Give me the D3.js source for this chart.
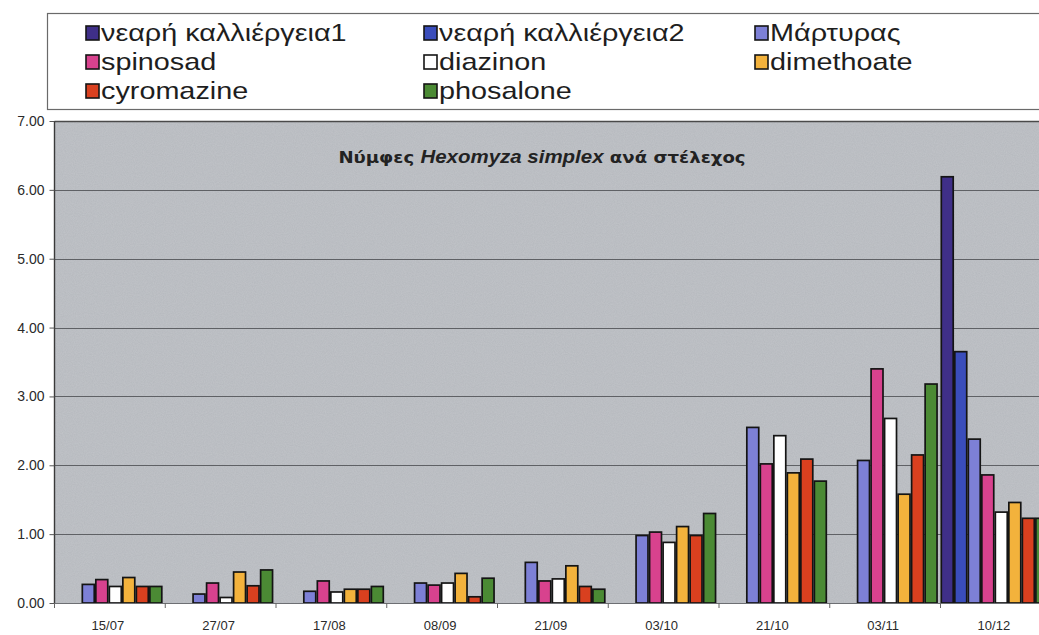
<!DOCTYPE html>
<html>
<head>
<meta charset="utf-8">
<script src="https://cdn.jsdelivr.net/npm/d3@7"></script>
<style>
  html, body { margin: 0; padding: 0; background: #ffffff; }
  svg { display: block; }
</style>
</head>
<body>
<svg id="chart" width="1039" height="635"></svg>
<script>
// Sampling dates (x categories)
const categories = ["15/07", "27/07", "17/08", "08/09", "21/09", "03/10", "21/10", "03/11", "10/12"];

// Series names, in drawing order
const seriesNames = ["νεαρή καλλιέργεια1", "νεαρή καλλιέργεια2", "Μάρτυρας", "spinosad", "diazinon", "dimethoate", "cyromazine", "phosalone"];

// Pupae per stem, one array per series (null = not sampled)
const nearaKalliergeia1 = [null, null, null, null, null, null, null, null, 6.19];
const nearaKalliergeia2 = [null, null, null, null, null, null, null, null, 3.65];
const martyras   = [0.27, 0.13, 0.17, 0.29, 0.59, 0.98, 2.55, 2.07, 2.38];
const spinosad   = [0.34, 0.29, 0.32, 0.26, 0.32, 1.03, 2.02, 3.40, 1.86];
const diazinon   = [0.24, 0.08, 0.16, 0.29, 0.35, 0.88, 2.43, 2.68, 1.32];
const dimethoate = [0.37, 0.45, 0.20, 0.43, 0.54, 1.11, 1.89, 1.58, 1.46];
const cyromazine = [0.24, 0.25, 0.20, 0.09, 0.24, 0.98, 2.09, 2.15, 1.23];
const phosalone  = [0.24, 0.48, 0.24, 0.36, 0.20, 1.30, 1.77, 3.18, 1.23];

// Y axis ticks
const yTicks = [0, 1, 2, 3, 4, 5, 6, 7];

const seriesValues = [nearaKalliergeia1, nearaKalliergeia2, martyras, spinosad, diazinon, dimethoate, cyromazine, phosalone];
const seriesColors = ["#3f2f88", "#3a4dbb", "#7d80d6", "#d8428e", "#ffffff", "#f3b23c", "#d9401f", "#4b8a34"];

const svg = d3.select("#chart");

const plotLeft = 54.5, plotTop = 121, plotBottom = 603, catWidth = 110.75;
const plotRight = plotLeft + categories.length * catWidth;

const x = d3.scaleBand().domain(categories).range([plotLeft, plotRight]).padding(0);
const xs = d3.scaleBand().domain(seriesNames).range([0, x.bandwidth() * 0.976]).padding(0);
const y = d3.scaleLinear().domain([0, 7]).range([plotBottom, plotTop]);

// Grainy grey plot background
const defs = svg.append("defs");
const grain = defs.append("filter").attr("id", "grain").attr("x", 0).attr("y", 0).attr("width", 1).attr("height", 1);
grain.append("feTurbulence").attr("type", "fractalNoise").attr("baseFrequency", 0.9).attr("numOctaves", 2).attr("seed", 3).attr("result", "noise");
grain.append("feColorMatrix").attr("in", "noise").attr("type", "matrix")
  .attr("values", "0 0 0 0 0.72  0 0 0 0 0.735  0 0 0 0 0.755  0 0 0 0.55 -0.12").attr("result", "tint");
grain.append("feComposite").attr("in", "tint").attr("in2", "SourceGraphic").attr("operator", "in");

svg.append("rect")
  .attr("x", plotLeft).attr("y", plotTop)
  .attr("width", plotRight - plotLeft).attr("height", plotBottom - plotTop)
  .attr("fill", "#b8bbc0");
svg.append("rect")
  .attr("x", plotLeft).attr("y", plotTop)
  .attr("width", plotRight - plotLeft).attr("height", plotBottom - plotTop)
  .attr("fill", "#b8bbc0")
  .attr("filter", "url(#grain)")
  .attr("opacity", 0.6);

// Horizontal gridlines
svg.append("g")
  .selectAll("line")
  .data(yTicks.filter(t => t > 0))
  .join("line")
  .attr("x1", plotLeft).attr("x2", plotRight)
  .attr("y1", d => Math.round(y(d)) + 0.5).attr("y2", d => Math.round(y(d)) + 0.5)
  .attr("stroke", d => d === 7 ? "#4a4a4a" : "#5f6165")
  .attr("stroke-width", d => d === 7 ? 1.6 : 1);

// Bars
const groups = svg.append("g")
  .selectAll("g")
  .data(categories)
  .join("g")
  .attr("transform", c => `translate(${x(c)},0)`);

groups.selectAll("rect")
  .data((c, i) => seriesNames.map((name, s) => ({ name, value: seriesValues[s][i], color: seriesColors[s] }))
    .filter(d => d.value != null))
  .join("rect")
  .attr("x", d => xs(d.name) + 0.8)
  .attr("width", xs.bandwidth() - 1.6)
  .attr("y", d => y(d.value))
  .attr("height", d => y(0) - y(d.value))
  .attr("fill", d => d.color)
  .attr("stroke", "#141414")
  .attr("stroke-width", 1.7);

// Y axis
const yAxis = d3.axisLeft(y).tickValues(yTicks).tickFormat(d3.format(".2f")).tickSize(5).tickPadding(5);
const gy = svg.append("g").attr("transform", `translate(${plotLeft},0)`).call(yAxis);
gy.select(".domain").attr("stroke", "#3a3a3a").attr("stroke-width", 1.4).attr("d", `M0,${plotTop}V${plotBottom}`);
gy.selectAll(".tick line").attr("stroke", "#555");
gy.selectAll(".tick text")
  .attr("font-family", "Liberation Sans, Arial, sans-serif")
  .attr("font-size", 14)
  .attr("fill", "#2a2a2a");

// X axis (ticks at category boundaries, labels centred)
svg.append("line")
  .attr("x1", plotLeft).attr("x2", plotRight)
  .attr("y1", plotBottom + 0.5).attr("y2", plotBottom + 0.5)
  .attr("stroke", "#6d6f73").attr("stroke-width", 1.2);

svg.append("g")
  .selectAll("line")
  .data(categories)
  .join("line")
  .attr("x1", c => x(c)).attr("x2", c => x(c))
  .attr("y1", plotBottom).attr("y2", plotBottom + 5)
  .attr("stroke", "#666");

svg.append("g")
  .selectAll("text")
  .data(categories)
  .join("text")
  .attr("x", c => x(c) + x.bandwidth() / 2 - 2)
  .attr("y", plotBottom + 27)
  .attr("text-anchor", "middle")
  .attr("font-family", "Liberation Sans, Arial, sans-serif")
  .attr("font-size", 13)
  .attr("fill", "#2a2a2a")
  .text(c => c);

// Title (slightly widened lettering)
const titleX = 542, titleY = 163, titleStretch = 1.17;
const title = svg.append("text")
  .attr("transform", `translate(${titleX},${titleY}) scale(${titleStretch},1)`)
  .attr("text-anchor", "middle")
  .attr("font-weight", "bold")
  .attr("fill", "#222");
title.append("tspan").attr("font-family", "DejaVu Sans, Verdana, sans-serif").attr("font-size", 15.5).text("Νύμφες ");
title.append("tspan").attr("font-family", "Liberation Sans, Arial, sans-serif").attr("font-style", "italic").attr("font-size", 17.5).text("Hexomyza simplex");
title.append("tspan").attr("font-family", "DejaVu Sans, Verdana, sans-serif").attr("font-size", 15.5).text(" ανά στέλεχος");

// Legend
const legend = svg.append("g");
legend.append("rect")
  .attr("x", 47.5).attr("y", 13.5)
  .attr("width", 1100).attr("height", 96)
  .attr("fill", "#ffffff")
  .attr("stroke", "#6a6a6a").attr("stroke-width", 1.2);

const legendCols = [86, 424, 755];
const legendRows = [33, 62, 91];
const items = legend.selectAll("g")
  .data(seriesNames.map((name, i) => ({ name, color: seriesColors[i], col: legendCols[i % 3], row: legendRows[Math.floor(i / 3)] })))
  .join("g")
  .attr("transform", d => `translate(${d.col},${d.row})`);
items.append("rect")
  .attr("x", 0).attr("y", -7)
  .attr("width", 13).attr("height", 14)
  .attr("fill", d => d.color)
  .attr("stroke", "#141414").attr("stroke-width", 1.6);
items.append("text")
  .attr("transform", "translate(15,8) scale(1.2,1)")
  .attr("font-family", "Liberation Sans, Arial, sans-serif")
  .attr("font-size", 24)
  .attr("fill", "#1e1e1e")
  .text(d => d.name);
</script>
</body>
</html>
